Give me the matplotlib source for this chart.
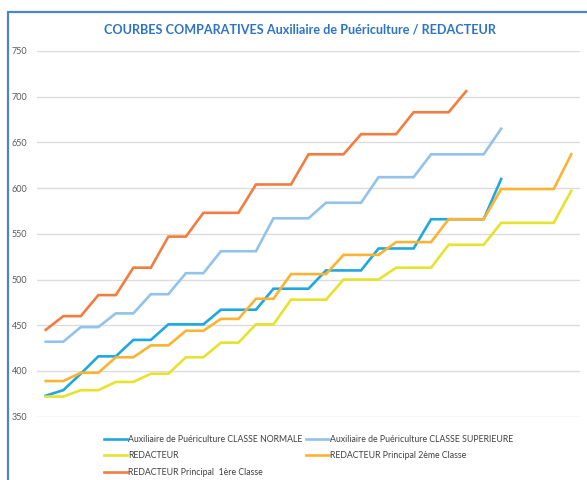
import matplotlib
matplotlib.use("Agg")
import matplotlib.pyplot as plt
from matplotlib.patches import Rectangle

TITLE = "COURBES COMPARATIVES Auxiliaire de Puériculture / REDACTEUR"
YTICKS = [350, 400, 450, 500, 550, 600, 650, 700, 750]

# values, one point per year (index 0..30)
ap_normale = [373, 379, 397, 416, 416, 434, 434, 451, 451, 451, 467, 467, 467, 490,
              490, 490, 510, 510, 510, 534, 534, 534, 566, 566, 566, 566, 610]
ap_superieure = [432, 432, 448, 448, 463, 463, 484, 484, 507, 507, 531, 531, 531, 567,
                 567, 567, 584, 584, 584, 612, 612, 612, 637, 637, 637, 637, 665]
redacteur = [372, 372, 379, 379, 388, 388, 397, 397, 415, 415, 431, 431, 451, 451, 478,
             478, 478, 500, 500, 500, 513, 513, 513, 538, 538, 538, 562, 562, 562, 562, 597]
redacteur_p2 = [389, 389, 398, 398, 415, 415, 428, 428, 444, 444, 457, 457, 479, 479, 506,
                506, 506, 527, 527, 527, 541, 541, 541, 566, 566, 566, 599, 599, 599, 599, 637]
redacteur_p1 = [445, 460, 460, 483, 483, 513, 513, 547, 547, 573, 573, 573, 604, 604, 604,
                637, 637, 637, 659, 659, 659, 683, 683, 683, 706]

SERIES = [  # (label, values, color)
    ("Auxiliaire de Puériculture CLASSE NORMALE", ap_normale, "#1FA8E0"),
    ("Auxiliaire de Puériculture CLASSE SUPERIEURE", ap_superieure, "#93C2EA"),
    ("REDACTEUR", redacteur, "#E6E22E"),
    ("REDACTEUR Principal 2ème Classe", redacteur_p2, "#FBB332"),
    ("REDACTEUR Principal  1ère Classe", redacteur_p1, "#F27D3E"),
]
N_CAT = 31

plt.rcParams["font.family"] = ["Lato", "DejaVu Sans"]
fig = plt.figure(figsize=(5.87, 4.8), dpi=100)
ax = fig.add_axes([37 / 587, 1 - 416.7 / 480, (580 - 37) / 587, (416.7 - 51) / 480])

lines = {}
for lab, vals, col in SERIES:
    lines[lab], = ax.plot(range(len(vals)), vals, color=col, lw=1.9, label=lab,
                          solid_joinstyle="miter")

ax.set_xlim(-0.5, N_CAT - 0.5)
ax.set_ylim(350, 750)
ax.set_yticks(YTICKS)
ax.set_xticks([])
ax.grid(axis="y", color="#DCDCDC", lw=1)
ax.set_axisbelow(True)
for s in ax.spines.values():
    s.set_visible(False)
ax.tick_params(axis="y", length=0, pad=7, labelsize=6.5, labelcolor="#595959")

fig.text(300 / 587, 1 - 30 / 480, TITLE, ha="center", va="center", fontsize=9.1,
         fontweight="bold", color="#2E74C4")

# outer chart frame (cropped on the right and bottom)
fig.patches.append(Rectangle((8 / 587, -0.05), 1.2, 1.05 - 12 / 480, transform=fig.transFigure,
                             fill=False, edgecolor="#4F84C4", lw=1.6))

# legend filled row by row like the original (matplotlib fills by column)
order = [0, 2, 4, 1, 3]
handles = [lines[SERIES[i][0]] for i in order]
labels = [SERIES[i][0] for i in order]
fig.legend(handles, labels, loc="upper left", bbox_to_anchor=(96 / 587, 1 - 427 / 480),
           ncol=2, frameon=False, fontsize=6.3, labelcolor="#404040",
           handlelength=2.6, handletextpad=0.2, columnspacing=0.35, labelspacing=0.85)

fig.savefig("out.png", dpi=100)
